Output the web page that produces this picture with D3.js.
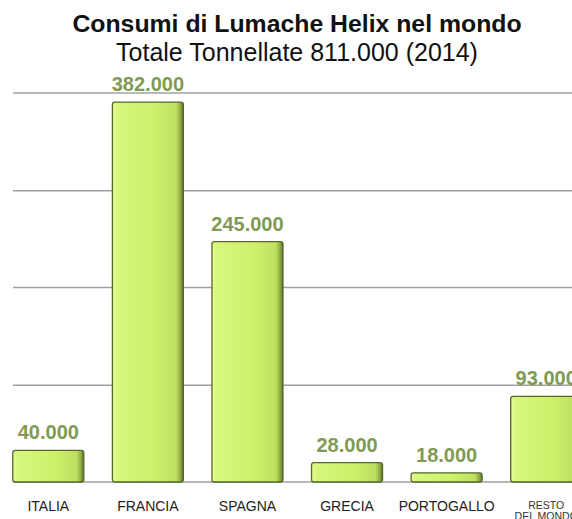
<!DOCTYPE html>
<html>
<head>
<meta charset="utf-8">
<script src="https://cdn.jsdelivr.net/npm/d3@7"></script>
<style>
  html, body { margin: 0; padding: 0; background: #fff; }
  svg { display: block; font-family: "Liberation Sans", Arial, Helvetica, sans-serif; }
</style>
</head>
<body>
<svg id="chart" width="572" height="519"></svg>
<script>
// Consumption of Helix snails by country, tonnes (2014)
const categories = ["ITALIA", "FRANCIA", "SPAGNA", "GRECIA", "PORTOGALLO", "RESTO|DEL MONDO"];
const values = [40000, 382000, 245000, 28000, 18000, 93000];
const valueLabels = ["40.000", "382.000", "245.000", "28.000", "18.000", "93.000"];
const gridValues = [104000, 200000, 295000, 391000];
const title = "Consumi di Lumache Helix nel mondo";
const subtitle = "Totale Tonnellate 811.000 (2014)";

const W = 572, H = 519;
const svg = d3.select("#chart");

const x = d3.scaleBand()
  .domain(categories)
  .range([-1.5, 596])
  .paddingInner(0.287)
  .paddingOuter(0.1435);

const y = d3.scaleLinear()
  .domain([9000, 391000])
  .range([482, 93]);

// bar gradient: bright left edge, darker shaded right edge
const defs = svg.append("defs");
const grad = defs.append("linearGradient").attr("id", "barFill")
  .attr("x1", "0").attr("x2", "1").attr("y1", "0").attr("y2", "0");
[[0, "#e4fb94"], [0.08, "#d6f77c"], [0.6, "#cdf06c"], [0.9, "#bedf5f"], [0.96, "#8fa944"], [1, "#5d6e2c"]]
  .forEach(([o, c]) => grad.append("stop").attr("offset", o).attr("stop-color", c));

// title
svg.append("text")
  .attr("x", 297).attr("y", 32)
  .attr("text-anchor", "middle")
  .attr("font-size", 24.8).attr("font-weight", "bold").attr("fill", "#111")
  .text(title);
svg.append("text")
  .attr("x", 297).attr("y", 61)
  .attr("text-anchor", "middle")
  .attr("font-size", 25).attr("fill", "#111")
  .text(subtitle);

// gridlines and baseline
const grid = svg.append("g");
grid.selectAll("line.grid")
  .data(gridValues)
  .join("line")
  .attr("class", "grid")
  .attr("x1", 13).attr("x2", W)
  .attr("y1", d => y(d)).attr("y2", d => y(d))
  .attr("stroke", "#a0a0a0").attr("stroke-width", 1.5);
grid.append("line")
  .attr("x1", 13).attr("x2", W)
  .attr("y1", y(9000)).attr("y2", y(9000))
  .attr("stroke", "#a0a0a0").attr("stroke-width", 1.5);

// bars
svg.append("g").selectAll("rect")
  .data(categories)
  .join("rect")
  .attr("x", d => x(d))
  .attr("y", (d, i) => y(values[i]))
  .attr("width", x.bandwidth())
  .attr("height", (d, i) => y(9000) - y(values[i]))
  .attr("rx", 2.5)
  .attr("fill", "url(#barFill)")
  .attr("stroke", "#56672a")
  .attr("stroke-width", 1.3);

// value labels
svg.append("g").selectAll("text")
  .data(categories)
  .join("text")
  .attr("x", d => x(d) + x.bandwidth() / 2)
  .attr("y", (d, i) => y(values[i]) - 11)
  .attr("text-anchor", "middle")
  .attr("font-size", 20).attr("font-weight", "bold")
  .attr("fill", "#809a52")
  .text((d, i) => valueLabels[i]);

// category axis labels
const xAxis = svg.append("g");
categories.forEach(c => {
  const parts = c.split("|");
  const cx = x(c) + x.bandwidth() / 2;
  if (parts.length === 1) {
    xAxis.append("text")
      .attr("x", cx).attr("y", 511)
      .attr("text-anchor", "middle")
      .attr("font-size", 14).attr("fill", "#222")
      .text(c);
  } else {
    parts.forEach((p, k) => {
      xAxis.append("text")
        .attr("x", cx).attr("y", 509 + k * 11)
        .attr("text-anchor", "middle")
        .attr("font-size", 10.5).attr("fill", "#333")
        .text(p);
    });
  }
});
</script>
</body>
</html>
